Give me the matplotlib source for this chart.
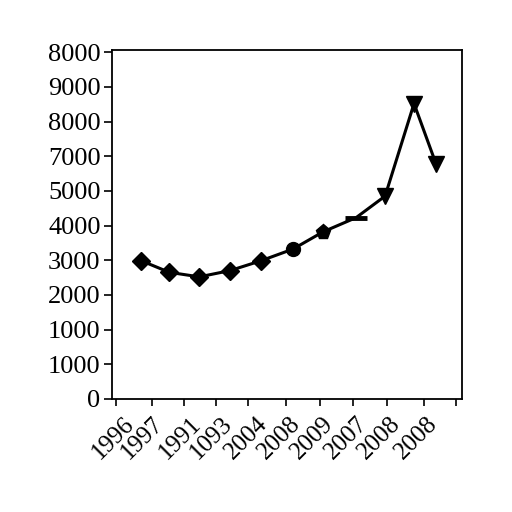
import matplotlib
matplotlib.use('Agg')
import matplotlib.pyplot as plt

# DATA (in axis units)
x_vals = [0.74, 1.58, 2.46, 3.36, 4.26, 5.21, 6.10, 7.07, 7.92, 8.77, 9.42]
y_vals = [3990, 3650, 3520, 3700, 3980, 4320, 4820, 5230, 5850, 8520, 6770]
markers = ['D', 'D', 'D', 'D', 'D', 'o', 'p', '_', 'v', 'v', 'v']

x_ticks = [0, 1.06, 2.01, 2.94, 3.90, 5.00, 6.01, 6.99, 7.97, 9.05, 10.0]
x_label_pos = [0.66, 1.54, 2.63, 3.57, 4.60, 5.57, 6.54, 7.54, 8.51, 9.60]
x_labels = ['1996', '1997', '1991', '1093', '2004', '2008', '2009', '2007', '2008', '2008']

y_ticks = list(range(0, 10001, 1000))
y_labels = ['0', '1000', '1000', '2000', '3000', '4000', '5000', '7000', '8000', '9000', '8000']

plt.rcParams['font.family'] = ['Liberation Serif', 'DejaVu Serif']

fig = plt.figure(figsize=(5.12, 5.12), dpi=100)
ax = fig.add_axes([0.218, 0.221, 0.685, 0.681])

# LINE + MARKERS
ax.plot(x_vals, y_vals, color='black', lw=2.2, zorder=2)
sizes = {'D': 9, 'o': 10, 'p': 11, '_': 16, 'v': 11}
for xv, yv, m in zip(x_vals, y_vals, markers):
    ax.plot(xv, yv, marker=m, color='black', markersize=sizes[m],
            markeredgewidth=3.5 if m == '_' else 1, zorder=3)

ax.set_xlim(-0.118, 10.19)
ax.set_ylim(0, 10060)

ax.set_xticks(x_ticks)
ax.set_xticklabels([])
ax.set_xticks(x_label_pos, minor=True)
ax.set_xticklabels(x_labels, minor=True, rotation=45, ha='right', fontsize=18)
ax.tick_params(axis='x', which='minor', length=0, pad=10)
ax.tick_params(axis='x', which='major', length=5, width=1.2, direction='out')

ax.set_yticks(y_ticks)
ax.set_yticklabels(y_labels, fontsize=19)
ax.tick_params(axis='y', length=6, width=1.2, direction='out', pad=2)

for s in ax.spines.values():
    s.set_linewidth(1.3)

plt.savefig('out.png', dpi=100)
